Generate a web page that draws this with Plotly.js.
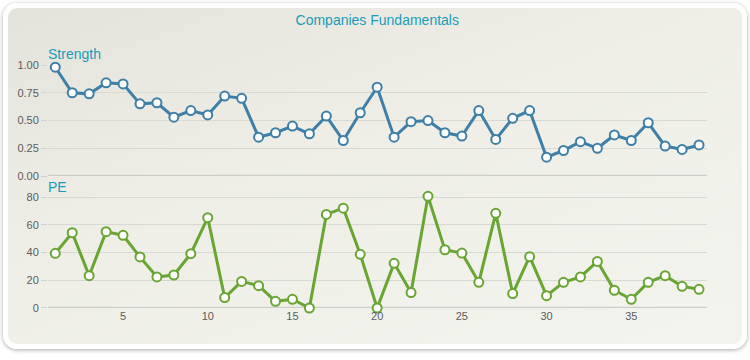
<!DOCTYPE html>
<html>
<head>
<meta charset="utf-8">
<script src="https://cdn.plot.ly/plotly-3.0.1.min.js"></script>
<style>
  html, body { margin: 0; padding: 0; background: #ffffff; width: 750px; height: 360px; overflow: hidden; }
  #card {
    position: absolute; left: 3px; top: 3px; width: 734px; height: 336px;
    border: 5px solid #ffffff; border-radius: 14px;
    box-shadow: 0 1px 4px rgba(0,0,0,0.35);
    background: linear-gradient(160deg, #e3e3dc 0%, #eeeee7 40%, #f4f4ee 100%);
  }
  #chart { position: absolute; left: 0; top: 0; width: 750px; height: 360px; }
</style>
</head>
<body>
<div id="card"></div>
<div id="chart"></div>
<script>
const xValues = Array.from({length: 39}, (_, i) => i + 1);
const strength = [0.98, 0.75, 0.74, 0.84, 0.83, 0.65, 0.66, 0.53, 0.59, 0.55,
                  0.72, 0.70, 0.35, 0.39, 0.45, 0.38, 0.54, 0.32, 0.57, 0.80,
                  0.35, 0.49, 0.50, 0.39, 0.36, 0.59, 0.33, 0.52, 0.59, 0.17,
                  0.23, 0.31, 0.25, 0.37, 0.32, 0.48, 0.27, 0.24, 0.28];
const pe = [39.4, 54.3, 23.3, 55, 52.4, 36.8, 22.4, 23.8, 39.2, 65.1,
            7.5, 19.2, 16.1, 4.8, 6.3, 0, 67.5, 72, 38.7, 0,
            32.2, 11.1, 80.5, 42, 39.6, 18.5, 68.3, 10.4, 37, 8.9,
            18.5, 22.4, 33.6, 12.8, 6.3, 18.5, 23.3, 15.6, 13.5];
const strengthTicks = [0, 0.25, 0.5, 0.75, 1];
const strengthTickText = ['0.00', '0.25', '0.50', '0.75', '1.00'];
const peTicks = [0, 20, 40, 60, 80];
const xTicks = [5, 10, 15, 20, 25, 30, 35];

const blue = '#3f7fa7';
const green = '#68a533';
const teal = '#1a9cb8';
const font = 'Liberation Sans, Arial, sans-serif';

const traces = [
  { x: xValues, y: strength, xaxis: 'x', yaxis: 'y', mode: 'lines+markers', cliponaxis: false,
    line: {color: blue, width: 3}, marker: {color: '#ffffff', size: 9, line: {color: blue, width: 2}},
    hoverinfo: 'x+y', name: 'Strength' },
  { x: xValues, y: pe, xaxis: 'x', yaxis: 'y2', mode: 'lines+markers', cliponaxis: false,
    line: {color: green, width: 3}, marker: {color: '#ffffff', size: 9, line: {color: green, width: 2}},
    hoverinfo: 'x+y', name: 'PE' }
];

const yCommon = {
  showgrid: true, gridcolor: '#d9d9d4', gridwidth: 1,
  zeroline: false, showline: false,
  ticks: 'outside', ticklen: 6, tickcolor: '#d0d0cc',
  tickfont: {family: font, size: 11, color: '#5c5c5c'},
  fixedrange: true
};

const layout = {
  width: 750, height: 360,
  paper_bgcolor: 'rgba(0,0,0,0)', plot_bgcolor: 'rgba(0,0,0,0)',
  margin: {l: 48, r: 43, t: 65, b: 52},
  showlegend: false,
  title: {text: 'Companies Fundamentals', x: 0.503, xanchor: 'center', y: 0.945, yanchor: 'middle',
          font: {family: font, size: 14, color: teal}},
  xaxis: { anchor: 'y2', range: [0.57, 39.47], tickvals: xTicks, showgrid: false, zeroline: false,
           showline: false, ticks: '', tickfont: {family: font, size: 11, color: '#5c5c5c'} },
  yaxis: Object.assign({}, yCommon, { domain: [0.543, 1], range: [0, 1], tickvals: strengthTicks, ticktext: strengthTickText }),
  yaxis2: Object.assign({}, yCommon, { domain: [0, 0.468], range: [0, 82], tickvals: peTicks }),
  shapes: [
    {type: 'line', xref: 'paper', yref: 'y', x0: 0, x1: 1, y0: 0, y1: 0, line: {color: '#cfcfca', width: 2.5}, layer: 'below'},
    {type: 'line', xref: 'paper', yref: 'y2', x0: 0, x1: 1, y0: 0, y1: 0, line: {color: '#cfcfca', width: 2.5}, layer: 'below'}
  ],
  annotations: [
    {text: 'Strength', xref: 'paper', yref: 'paper', x: -0.003, y: 1, xanchor: 'left', yanchor: 'bottom', yshift: 1,
     showarrow: false, font: {family: font, size: 14, color: teal}},
    {text: 'PE', xref: 'paper', yref: 'paper', x: -0.003, y: 0.457, xanchor: 'left', yanchor: 'bottom', yshift: 0,
     showarrow: false, font: {family: font, size: 14, color: teal}}
  ]
};

Plotly.newPlot('chart', traces, layout, {displayModeBar: false, staticPlot: true});
</script>
</body>
</html>
